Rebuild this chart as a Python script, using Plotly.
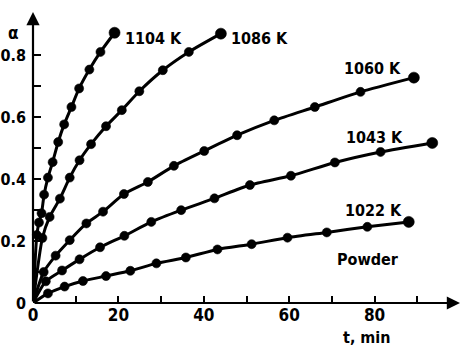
import plotly.graph_objects as go

# ---- data ----
t_1022 = [0, 3.5, 7.4, 11.7, 17.1, 22.8, 28.9, 35.8, 43.2, 51.2, 59.6, 68.8, 78.3, 88.0]
a_1022 = [0, 0.031, 0.053, 0.071, 0.087, 0.104, 0.128, 0.147, 0.173, 0.190, 0.211, 0.228, 0.246, 0.262]

t_1043 = [0, 3.0, 6.8, 10.9, 15.7, 21.4, 27.7, 34.7, 42.5, 50.8, 60.4, 70.7, 81.4, 93.5]
a_1043 = [0, 0.070, 0.105, 0.141, 0.180, 0.217, 0.262, 0.300, 0.338, 0.381, 0.411, 0.454, 0.488, 0.517]

t_1060 = [0, 2.5, 5.3, 8.6, 12.5, 16.4, 21.3, 26.9, 33.0, 40.1, 47.8, 56.5, 66.0, 76.7, 89.2]
a_1060 = [0, 0.100, 0.153, 0.203, 0.257, 0.295, 0.352, 0.391, 0.443, 0.491, 0.542, 0.590, 0.633, 0.682, 0.728]

t_1086 = [0, 2.2, 3.9, 6.3, 8.6, 10.9, 13.6, 17.1, 20.8, 24.9, 30.4, 36.5, 44.0]
a_1086 = [0, 0.210, 0.278, 0.337, 0.405, 0.461, 0.513, 0.571, 0.623, 0.684, 0.752, 0.811, 0.870]

t_1104 = [0, 0.9, 1.4, 2.0, 2.6, 3.5, 4.6, 5.9, 7.3, 9.0, 10.8, 13.2, 15.8, 19.1]
a_1104 = [0, 0.220, 0.260, 0.290, 0.350, 0.405, 0.455, 0.520, 0.577, 0.633, 0.693, 0.754, 0.811, 0.873]

series = [
    ("1022 K", t_1022, a_1022),
    ("1043 K", t_1043, a_1043),
    ("1060 K", t_1060, a_1060),
    ("1086 K", t_1086, a_1086),
    ("1104 K", t_1104, a_1104),
]

x_tickvals = [0, 10, 20, 30, 40, 50, 60, 70, 80, 90]
x_ticktext = ["0", "", "20", "", "40", "", "60", "", "80", ""]
y_tickvals = [0, 0.1, 0.2, 0.3, 0.4, 0.5, 0.6, 0.7, 0.8]
y_ticktext = ["0", "", "0.2", "", "0.4", "", "0.6", "", "0.8"]

FONT = "Liberation Sans Narrow, DejaVu Sans Condensed, Arial Narrow, sans-serif"

fig = go.Figure()
for name, t, a in series:
    sizes = [0] + [9] * (len(t) - 2) + [11]
    fig.add_trace(go.Scatter(
        x=t, y=a, mode="lines+markers", name=name,
        line=dict(color="black", width=3, shape="spline", smoothing=0.6),
        marker=dict(color="black", size=sizes, opacity=1, line=dict(color="black", width=0.6)),
        showlegend=False, cliponaxis=False,
    ))

# curve labels
labels = [
    ("1104 K", 21.0, 0.855, "left"),
    ("1086 K", 45.8, 0.855, "left"),
    ("1060 K", 79.4, 0.758, "center"),
    ("1043 K", 79.9, 0.535, "center"),
    ("1022 K", 79.7, 0.300, "center"),
    ("Powder", 78.5, 0.142, "center"),
]
for txt, x, y, xa in labels:
    fig.add_annotation(x=x, y=y, text="<b>%s</b>" % txt, showarrow=False, xanchor=xa, yanchor="middle",
                       font=dict(family=FONT, size=16, color="black"))

# axis arrows
fig.add_annotation(x=0, y=0.94, ax=0, ay=0, axref="x", ayref="y", xref="x", yref="y",
                   showarrow=True, arrowhead=2, arrowsize=1.2, arrowwidth=2.2, arrowcolor="black", text="")
fig.add_annotation(x=100, y=0, ax=0, ay=0, axref="x", ayref="y", xref="x", yref="y",
                   showarrow=True, arrowhead=2, arrowsize=1.2, arrowwidth=2.2, arrowcolor="black", text="")

# axis titles
fig.add_annotation(x=-0.046, y=0.928, xref="paper", yref="paper", text="<b>α</b>", showarrow=False,
                   xanchor="center", yanchor="middle",
                   font=dict(family=FONT, size=17, color="black"))
fig.add_annotation(x=0.783, y=-0.117, xref="paper", yref="paper", text="<b>t, min</b>", showarrow=False,
                   xanchor="center", yanchor="middle",
                   font=dict(family=FONT, size=16, color="black"))

fig.update_layout(
    width=466, height=346,
    margin=dict(l=33, r=6, t=12, b=43),
    paper_bgcolor="white", plot_bgcolor="white",
    font=dict(family=FONT, color="black"),
    xaxis=dict(range=[0, 100], showgrid=False, zeroline=False, showline=False, automargin=False,
               tickvals=x_tickvals, ticktext=x_ticktext, ticks="inside", ticklen=7,
               tickwidth=1.6, tickcolor="black", tickfont=dict(size=17, family=FONT, weight="bold")),
    yaxis=dict(range=[0, 0.94], showgrid=False, zeroline=False, showline=False, automargin=False,
               tickvals=y_tickvals, ticktext=y_ticktext, ticks="inside", ticklen=8,
               ticklabelstandoff=6,
               tickwidth=1.6, tickcolor="black", tickfont=dict(size=16, family=FONT, weight="bold")),
)

fig.write_html("out.html", config={"displayModeBar": False},
               post_script="document.body.style.margin='0';document.body.style.overflow='hidden';")
